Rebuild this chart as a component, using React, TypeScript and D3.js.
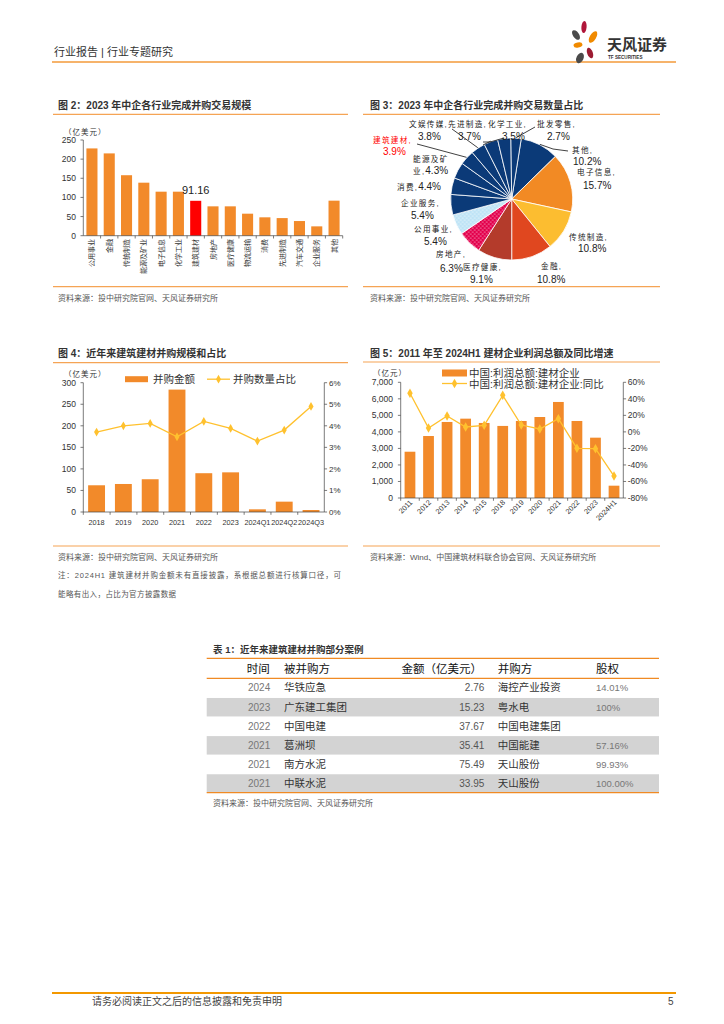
import React from 'react';
import * as d3 from 'd3';

const F = "'Liberation Sans', 'Noto Sans CJK SC', sans-serif";
const ORANGE = '#F28A2A';
const GOLD = '#FFC12E';
const RULE = '#F5A455';
const TXT = '#333';

// 图2 2023年中企各行业完成并购交易规模（亿美元）
const industries = ['公用事业', '金融', '传统制造', '能源及矿业', '电子信息', '化学工业', '建筑建材', '房地产', '医疗健康', '物流运输', '消费', '先进制造', '汽车交通', '企业服务', '其他'];
const dealValue2023 = [228, 215, 158, 138.5, 115, 115, 91.16, 76.7, 76.7, 57.5, 48, 46, 38.3, 24.4, 91.5];
const fig2Ticks = [0, 50, 100, 150, 200, 250];

// 图3 2023年中企各行业完成并购交易数量占比（%）
const pieNames = ['其他', '电子信息', '传统制造', '金融', '医疗健康', '房地产', '公用事业', '企业服务', '消费', '能源及矿业', '建筑建材', '文娱传媒', '先进制造', '化学工业', '批发零售'];
const pieShares = [10.2, 15.7, 10.8, 10.8, 9.1, 6.3, 5.4, 5.4, 4.4, 4.3, 3.9, 3.8, 3.7, 3.5, 2.7];

// 图4 近年来建筑建材并购规模和占比
const periods = ['2018', '2019', '2020', '2021', '2022', '2023', '2024Q1', '2024Q2', '2024Q3'];
const bmDealValue = [62, 65, 76, 284, 90, 92, 6.2, 24, 4.6];
const bmDealShare = [3.71, 4.0, 4.11, 3.49, 4.2, 3.88, 3.29, 3.8, 4.9];
const fig4Left = [0, 50, 100, 150, 200, 250, 300];
const fig4Right = [0, 1, 2, 3, 4, 5, 6];

// 图5 2011年至2024H1建材企业利润总额及同比增速
const profitYears = ['2011', '2012', '2013', '2014', '2015', '2018', '2019', '2020', '2021', '2022', '2023', '2024H1'];
const profitTotal = [2800, 3750, 4600, 4800, 4540, 4360, 4660, 4900, 5810, 4660, 3650, 745];
const profitYoY = [46.7, 4.7, 19.2, 5.9, 7.9, 44.2, 8.3, 3.5, 16, -19.9, -20.3, -53.4];
const fig5Left = [0, 1000, 2000, 3000, 4000, 5000, 6000, 7000];
const fig5Right = [-80, -60, -40, -20, 0, 20, 40, 60];

// 表1 近年来建筑建材并购部分案例
const tableHead = ['时间', '被并购方', '金额（亿美元）', '并购方', '股权'];
const caseYears = ['2024', '2023', '2022', '2021', '2021', '2021'];
const caseTargets = ['华铁应急', '广东建工集团', '中国电建', '葛洲坝', '南方水泥', '中联水泥'];
const caseAmounts = ['2.76', '15.23', '37.67', '35.41', '75.49', '33.95'];
const caseAcquirers = ['海控产业投资', '粤水电', '中国电建集团', '中国能建', '天山股份', '天山股份'];
const caseStakes = ['14.01%', '100%', '', '57.16%', '99.93%', '100.00%'];

const SRC = '资料来源：投中研究院官网、天风证券研究所';

const navy = '#0B3A78';
const pieFill: Record<string, string> = {
  其他: navy, 电子信息: '#F28A24', 传统制造: '#FCBD30', 金融: '#E0471F', 医疗健康: '#B43B2B',
  房地产: 'url(#dotRed)', 公用事业: 'url(#dotBlue)',
};

// label layout for the pie (positions only)
const PIE_LAYOUT: Record<string, { a: [number, number]; b?: [number, number]; l1: string; l2?: string; lead?: [number, number][] }> = {
  其他: { a: [572, 153], b: [573, 165], l1: '其他,', l2: '10.2%', lead: [[568, 151], [553, 149]] },
  电子信息: { a: [577, 175], b: [583, 189], l1: '电子信息,', l2: '15.7%' },
  传统制造: { a: [569, 240], b: [578, 252], l1: '传统制造,', l2: '10.8%' },
  金融: { a: [541, 269], b: [537, 283], l1: '金融,', l2: '10.8%' },
  医疗健康: { a: [463, 270], b: [470, 283], l1: '医疗健康,', l2: '9.1%' },
  房地产: { a: [436, 257], b: [440, 272], l1: '房地产,', l2: '6.3%' },
  公用事业: { a: [414, 232], b: [424, 245], l1: '公用事业,', l2: '5.4%' },
  企业服务: { a: [401, 206], b: [411, 219], l1: '企业服务,', l2: '5.4%' },
  消费: { a: [397, 190], l1: '消费,', l2: '4.4%' },
  能源及矿业: { a: [413, 162], b: [413, 174], l1: '能源及矿', l2: '业,|4.3%' },
  建筑建材: { a: [373, 143], b: [383, 155], l1: '建筑建材,', l2: '3.9%', lead: [[417, 144]] },
  文娱传媒: { a: [409, 127], b: [418, 140], l1: '文娱传媒,', l2: '3.8%', lead: [[452, 129]] },
  先进制造: { a: [448, 127], b: [458, 140], l1: '先进制造,', l2: '3.7%', lead: [[483, 145]] },
  化学工业: { a: [488, 127], b: [502, 140], l1: '化学工业,', l2: '3.5%', lead: [[483, 142], [490, 142]] },
  批发零售: { a: [537, 127], b: [547, 140], l1: '批发零售,', l2: '2.7%', lead: [[535, 127]] },
};

function Rule({ x1, x2, y, w = 1.2, c = RULE }: any) {
  return <line x1={x1} x2={x2} y1={y} y2={y} stroke={c} strokeWidth={w} />;
}

function Fig2() {
  const x = d3.scaleBand().domain(industries).range([83.3, 342.7]).paddingInner(0.36).paddingOuter(0.18);
  const y = d3.scaleLinear().domain([0, 250]).range([235.7, 140]);
  const step = x.step();
  return (
    <g>
      <text x={58} y={109} fontSize={10} fontWeight="bold" fill={TXT}>图 2：2023 年中企各行业完成并购交易规模</text>
      <Rule x1={53} x2={348} y={114.3} />
      <text x={64} y={135} fontSize={7.5} fill={TXT} letterSpacing={1}>（亿美元）</text>
      {industries.map((d, i) => (
        <rect key={d} x={x(d)} y={y(dealValue2023[i])} width={x.bandwidth()} height={y(0) - y(dealValue2023[i])}
          fill={d === '建筑建材' ? '#FF0000' : ORANGE} />
      ))}
      <text x={(x('建筑建材') as number) + x.bandwidth() / 2} y={194} fontSize={11} textAnchor="middle" fill="#222">{d3.format('.2f')(91.16)}</text>
      <line x1={83.3} x2={83.3} y1={140} y2={235.7} stroke="#444" strokeWidth={0.7} />
      <line x1={83.3} x2={342.7} y1={235.7} y2={235.7} stroke="#444" strokeWidth={0.7} />
      {fig2Ticks.map(t => (
        <g key={t}>
          <line x1={80.5} x2={83.3} y1={y(t)} y2={y(t)} stroke="#444" strokeWidth={0.7} />
          <text x={76} y={y(t) + 3} fontSize={8.5} textAnchor="end" fill={TXT}>{t}</text>
        </g>
      ))}
      {industries.map((d, i) => (
        <line key={'t' + d} x1={83.3 + step * (i + 1)} x2={83.3 + step * (i + 1)} y1={235.7} y2={238.5} stroke="#444" strokeWidth={0.7} />
      ))}
      {industries.map(d => {
        const cx = (x(d) as number) + x.bandwidth() / 2 + 2.5;
        return (
          <text key={'l' + d} transform={`translate(${cx},239) rotate(-90)`} fontSize={7} textAnchor="end" fill={TXT}>{d}</text>
        );
      })}
      <Rule x1={53} x2={348} y={286.7} />
      <text x={58} y={301} fontSize={8} fill="#555">{SRC}</text>
    </g>
  );
}

function Fig3() {
  const cx = 511.7, cy = 199, R = 61;
  const start = (9 * Math.PI) / 180;
  const pie = d3.pie<number>().sort(null).value(d => d).startAngle(start).endAngle(start + Math.PI * 2);
  const arcs = pie(pieShares);
  const arc = d3.arc<d3.PieArcDatum<number>>().innerRadius(0).outerRadius(R);
  return (
    <g>
      <defs>
        <pattern id="dotRed" width={4} height={4} patternUnits="userSpaceOnUse">
          <rect width={4} height={4} fill="#E3004C" />
          <circle cx={1} cy={1} r={0.6} fill="#fff" />
          <circle cx={3} cy={3} r={0.6} fill="#fff" />
        </pattern>
        <pattern id="dotBlue" width={4} height={4} patternUnits="userSpaceOnUse">
          <rect width={4} height={4} fill="#BFE4F6" />
          <circle cx={1} cy={1} r={0.6} fill="#fff" />
          <circle cx={3} cy={3} r={0.6} fill="#fff" />
        </pattern>
      </defs>
      <text x={370} y={109} fontSize={10} fontWeight="bold" fill={TXT}>图 3：2023 年中企各行业完成并购交易数量占比</text>
      <Rule x1={363} x2={660} y={114.3} />
      <g transform={`translate(${cx},${cy})`}>
        {arcs.map((a, i) => (
          <path key={pieNames[i]} d={arc(a) as string} fill={pieFill[pieNames[i]] || navy} stroke="#fff" strokeWidth={0.8} />
        ))}
      </g>
      {arcs.map((a, i) => {
        const name = pieNames[i];
        const L = PIE_LAYOUT[name];
        const red = name === '建筑建材';
        const col = red ? '#FF0000' : '#222';
        const mid = (a.startAngle + a.endAngle) / 2;
        const ex = cx + (R + 0.5) * Math.sin(mid), ey = cy - (R + 0.5) * Math.cos(mid);
        const two = L.l2 ? L.l2.split('|') : [];
        return (
          <g key={'lab' + name}>
            {L.lead && (
              <polyline points={[...L.lead, [ex, ey]].map(p => p.join(',')).join(' ')} fill="none" stroke="#111" strokeWidth={0.8} />
            )}
            <text x={L.a[0]} y={L.a[1]} fill={col}>
              <tspan fontSize={7.6} letterSpacing={1.3}>{L.l1}</tspan>
              {!L.b && L.l2 && <tspan fontSize={10}>{L.l2}</tspan>}
            </text>
            {L.b && (
              <text x={L.b[0]} y={L.b[1]} fill={col}>
                {two.length === 2 && <tspan fontSize={7.6} letterSpacing={1.3}>{two[0]}</tspan>}
                <tspan fontSize={10}>{two[two.length - 1]}</tspan>
              </text>
            )}
          </g>
        );
      })}
      <Rule x1={363} x2={660} y={286.7} />
      <text x={370} y={301} fontSize={8} fill="#555">{SRC}</text>
    </g>
  );
}

function Fig4() {
  const x = d3.scaleBand().domain(periods).range([83.3, 324.3]).paddingInner(0.37).paddingOuter(0.18);
  const yL = d3.scaleLinear().domain([0, 300]).range([512, 382.7]);
  const yR = d3.scaleLinear().domain([0, 6]).range([512, 382.7]);
  const step = x.step();
  const line = d3.line<number>().x((_, i) => (x(periods[i]) as number) + x.bandwidth() / 2).y(d => yR(d));
  const diamond = d3.symbol(d3.symbolDiamond, 22)() as string;
  return (
    <g>
      <text x={58} y={356.5} fontSize={10} fontWeight="bold" fill={TXT}>图 4：近年来建筑建材并购规模和占比</text>
      <Rule x1={53} x2={348} y={362.7} />
      <text x={64} y={377} fontSize={7.5} fill={TXT} letterSpacing={1}>（亿美元）</text>
      <rect x={125} y={376.2} width={23} height={6} fill={ORANGE} />
      <text x={153} y={383} fontSize={10.5} fill={TXT}>并购金额</text>
      <line x1={207} x2={230} y1={379.2} y2={379.2} stroke={GOLD} strokeWidth={1.3} />
      <path d={diamond} transform="translate(218.5,379.2)" fill={GOLD} />
      <text x={233} y={383} fontSize={10.5} fill={TXT}>并购数量占比</text>
      {periods.map((p, i) => (
        <rect key={p} x={x(p)} y={yL(bmDealValue[i])} width={x.bandwidth()} height={yL(0) - yL(bmDealValue[i])} fill={ORANGE} />
      ))}
      <line x1={83.3} x2={83.3} y1={382.7} y2={512} stroke="#444" strokeWidth={0.7} />
      <line x1={324.3} x2={324.3} y1={382.7} y2={512} stroke="#444" strokeWidth={0.7} />
      <line x1={83.3} x2={324.3} y1={512} y2={512} stroke="#444" strokeWidth={0.7} />
      {fig4Left.map(t => (
        <g key={'l' + t}>
          <line x1={80.5} x2={83.3} y1={yL(t)} y2={yL(t)} stroke="#444" strokeWidth={0.7} />
          <text x={76} y={yL(t) + 3} fontSize={8.5} textAnchor="end" fill={TXT}>{t}</text>
        </g>
      ))}
      {fig4Right.map(t => (
        <g key={'r' + t}>
          <line x1={324.3} x2={327.1} y1={yR(t)} y2={yR(t)} stroke="#444" strokeWidth={0.7} />
          <text x={329} y={yR(t) + 3} fontSize={8} fill={TXT}>{t}%</text>
        </g>
      ))}
      {periods.map((p, i) => (
        <line key={'t' + p} x1={83.3 + step * i} x2={83.3 + step * i} y1={512} y2={514.8} stroke="#444" strokeWidth={0.7} />
      ))}
      {periods.map(p => (
        <text key={'x' + p} x={(x(p) as number) + x.bandwidth() / 2} y={524.5} fontSize={7.3} textAnchor="middle" fill={TXT}>{p}</text>
      ))}
      <path d={line(bmDealShare) as string} fill="none" stroke={GOLD} strokeWidth={1.3} />
      {bmDealShare.map((v, i) => (
        <path key={'m' + i} d={diamond} transform={`translate(${(x(periods[i]) as number) + x.bandwidth() / 2},${yR(v)})`} fill={GOLD} />
      ))}
      <Rule x1={53} x2={348} y={546} />
      <text x={58} y={560} fontSize={8} fill="#555">{SRC}</text>
      <text x={58} y={578} fontSize={7.5} fill="#555" textLength={283} lengthAdjust="spacing">注：2024H1 建筑建材并购金额未有直接披露，系根据总额进行核算口径，可</text>
      <text x={58} y={597} fontSize={7.5} fill="#555" letterSpacing={0.4}>能略有出入，占比为官方披露数据</text>
    </g>
  );
}

function Fig5() {
  const x = d3.scaleBand().domain(profitYears).range([400.7, 623.3]).paddingInner(0.42).paddingOuter(0.21);
  const yL = d3.scaleLinear().domain([0, 7000]).range([498, 382.3]);
  const yR = d3.scaleLinear().domain([-80, 60]).range([498, 382.3]);
  const step = x.step();
  const cxOf = (i: number) => (x(profitYears[i]) as number) + x.bandwidth() / 2;
  const line = d3.line<number>().x((_, i) => cxOf(i)).y(d => yR(d));
  const diamond = d3.symbol(d3.symbolDiamond, 26)() as string;
  return (
    <g>
      <text x={370} y={357} fontSize={10} fontWeight="bold" fill={TXT}>图 5：2011 年至 2024H1 建材企业利润总额及同比增速</text>
      <Rule x1={363} x2={660} y={362} />
      <text x={373} y={375.6} fontSize={7.5} fill={TXT} letterSpacing={1}>（亿元）</text>
      <rect x={442} y={369.5} width={25} height={7} fill={ORANGE} />
      <text x={469} y={377} fontSize={10.5} fill={TXT}>中国:利润总额:建材企业</text>
      <line x1={442} x2={467} y1={383.5} y2={383.5} stroke={GOLD} strokeWidth={1.3} />
      <path d={diamond} transform="translate(454.5,383.5)" fill={GOLD} />
      <text x={469} y={388} fontSize={10.5} fill={TXT}>中国:利润总额:建材企业:同比</text>
      {profitYears.map((p, i) => (
        <rect key={p} x={x(p)} y={yL(profitTotal[i])} width={x.bandwidth()} height={yL(0) - yL(profitTotal[i])} fill={ORANGE} />
      ))}
      <line x1={400.7} x2={400.7} y1={382.3} y2={498} stroke="#444" strokeWidth={0.7} />
      <line x1={623.3} x2={623.3} y1={382.3} y2={498} stroke="#444" strokeWidth={0.7} />
      <line x1={400.7} x2={623.3} y1={498} y2={498} stroke="#444" strokeWidth={0.7} />
      {fig5Left.map(t => (
        <g key={'l' + t}>
          <line x1={397.9} x2={400.7} y1={yL(t)} y2={yL(t)} stroke="#444" strokeWidth={0.7} />
          <text x={393} y={yL(t) + 3} fontSize={8.5} textAnchor="end" fill={TXT}>{d3.format(',')(t)}</text>
        </g>
      ))}
      {fig5Right.map(t => (
        <g key={'r' + t}>
          <line x1={623.3} x2={626.1} y1={yR(t)} y2={yR(t)} stroke="#444" strokeWidth={0.7} />
          <text x={627.7} y={yR(t) + 3} fontSize={8.5} fill={TXT}>{t}%</text>
        </g>
      ))}
      {profitYears.map((p, i) => (
        <line key={'t' + p} x1={400.7 + step * i} x2={400.7 + step * i} y1={498} y2={500.8} stroke="#444" strokeWidth={0.7} />
      ))}
      {profitYears.map((p, i) => (
        <text key={'x' + p} transform={`translate(${cxOf(i) + 3},503) rotate(-45)`} fontSize={7.3} textAnchor="end" fill={TXT}>{p}</text>
      ))}
      <path d={line(profitYoY) as string} fill="none" stroke={GOLD} strokeWidth={1.3} />
      {profitYoY.map((v, i) => (
        <path key={'m' + i} d={diamond} transform={`translate(${cxOf(i)},${yR(v)})`} fill={GOLD} />
      ))}
      <Rule x1={363} x2={660} y={546} />
      <text x={370} y={560} fontSize={8} fill="#555">资料来源：Wind、中国建筑材料联合协会官网、天风证券研究所</text>
    </g>
  );
}

function Table1() {
  const top = 678.3, rh = 19.07;
  const L = 206.7, R = 659;
  const hs = { fontSize: 11.5, fill: '#111' };
  return (
    <g>
      <text x={213} y={652.5} fontSize={9.5} fontWeight="bold" fill={TXT}>表 1：近年来建筑建材并购部分案例</text>
      <Rule x1={L} x2={R} y={658.3} w={1.3} c="#F08A24" />
      <text x={246.7} y={673} {...hs}>{tableHead[0]}</text>
      <text x={284} y={673} {...hs}>{tableHead[1]}</text>
      <text x={482} y={673} {...hs} textAnchor="end">{tableHead[2]}</text>
      <text x={497.7} y={673} {...hs}>{tableHead[3]}</text>
      <text x={596} y={673} {...hs}>{tableHead[4]}</text>
      <Rule x1={L} x2={R} y={top} w={1.3} c="#F08A24" />
      {caseYears.map((yr, i) => {
        const y0 = top + i * rh;
        const by = y0 + rh / 2 + 3.6;
        return (
          <g key={i}>
            {i % 2 === 1 && <rect x={L} y={y0 + 0.6} width={R - L} height={rh - 0.6} fill="#D3D3D3" />}
            <text x={248} y={by} fontSize={10} fill="#777">{yr}</text>
            <text x={284} y={by} fontSize={10.5} fill={TXT}>{caseTargets[i]}</text>
            <text x={484.3} y={by} fontSize={10} fill="#555" textAnchor="end">{caseAmounts[i]}</text>
            <text x={497.7} y={by} fontSize={10.5} fill={TXT}>{caseAcquirers[i]}</text>
            <text x={596} y={by} fontSize={9.5} fill="#777">{caseStakes[i]}</text>
          </g>
        );
      })}
      <Rule x1={L} x2={R} y={792.7} w={1.3} c="#F08A24" />
      <text x={213} y={806} fontSize={8} fill="#555">{SRC}</text>
    </g>
  );
}

function Header() {
  return (
    <g>
      <text x={54} y={56} fontSize={11} fill={TXT}>行业报告 | 行业专题研究</text>
      <line x1={52} x2={676} y1={62} y2={62} stroke="#F39A3A" strokeWidth={1.5} />
      <g>
        <ellipse cx={576} cy={35} rx={3} ry={5.5} transform="rotate(-35 576 35)" fill="#4A4A4A" />
        <ellipse cx={584} cy={27} rx={2.6} ry={6} transform="rotate(5 584 27)" fill="#B0163A" />
        <ellipse cx={593} cy={37} rx={3.2} ry={6.5} transform="rotate(30 593 37)" fill="#F08A00" />
        <ellipse cx={578} cy={45} rx={4.5} ry={2.5} transform="rotate(-10 578 45)" fill="#F08A00" />
        <ellipse cx={590} cy={53} rx={2.8} ry={5.5} transform="rotate(-20 590 53)" fill="#9C1B32" />
        <ellipse cx={580} cy={58} rx={3.5} ry={5.5} transform="rotate(25 580 58)" fill="#4A4A4A" />
      </g>
      <text x={607} y={50} fontSize={15} fontWeight="bold" fill="#333">天风证券</text>
      <text x={608} y={58.5} fontSize={4.6} fontWeight="bold" fill="#333">TF SECURITIES</text>
    </g>
  );
}

function Footer() {
  return (
    <g>
      <line x1={52} x2={676} y1={993} y2={993} stroke="#F39800" strokeWidth={2} />
      <text x={92} y={1005} fontSize={10} fill="#444">请务必阅读正文之后的信息披露和免责申明</text>
      <text x={668} y={1005} fontSize={10} fill="#444">5</text>
    </g>
  );
}

export default function App() {
  return (
    <div style={{ position: 'absolute', left: 0, top: 0, background: '#fff' }}>
      <svg width={724} height={1024} fontFamily={F} style={{ display: 'block' }}>
        <rect width={724} height={1024} fill="#fff" />
        <Header />
        <Fig2 />
        <Fig3 />
        <Fig4 />
        <Fig5 />
        <Table1 />
        <Footer />
      </svg>
    </div>
  );
}
